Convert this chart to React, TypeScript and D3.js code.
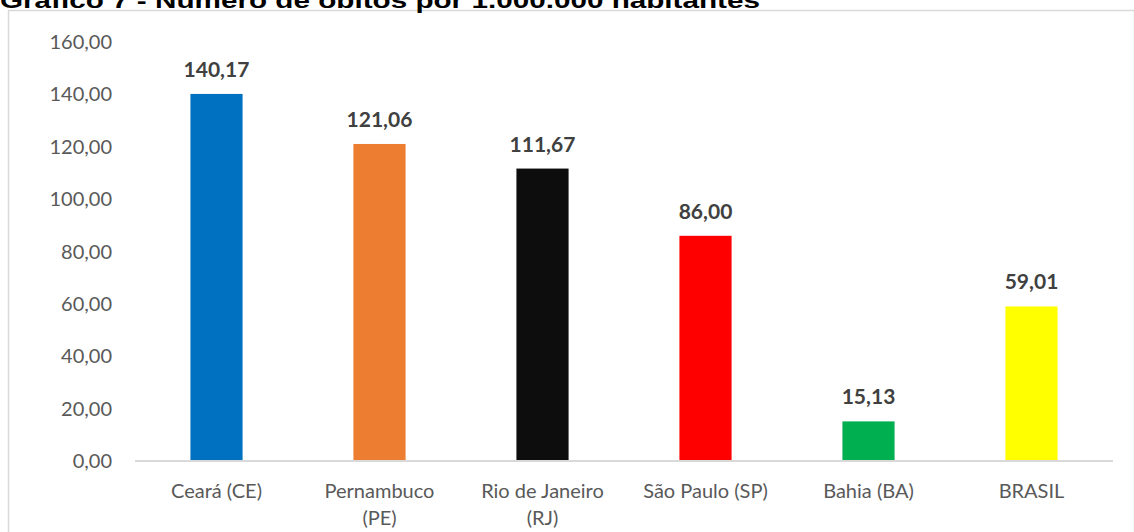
import React from "react";
import * as d3 from "d3";

const categories: string[][] = [
  ["Ceará (CE)"],
  ["Pernambuco", "(PE)"],
  ["Rio de Janeiro", "(RJ)"],
  ["São Paulo (SP)"],
  ["Bahia (BA)"],
  ["BRASIL"],
];
const values: number[] = [140.17, 121.06, 111.67, 86.0, 15.13, 59.01];
const colors: string[] = ["#0070C0", "#ED7D31", "#0D0D0D", "#FF0000", "#00B050", "#FFFF00"];
const yTicks: number[] = [0, 20, 40, 60, 80, 100, 120, 140, 160];
const title = "Gráfico 7 - Número de óbitos por 1.000.000 habitantes";

const W = 1134;
const H = 532;
const fmt = (v: number) => v.toFixed(2).replace(".", ",");

export default function App() {
  const x = d3
    .scaleBand<number>()
    .domain(d3.range(categories.length))
    .range([135, 1113])
    .paddingInner(0.68)
    .paddingOuter(0.34);
  const y = d3.scaleLinear().domain([0, 160]).range([461, 42]);
  const font = "Lato, 'Open Sans', sans-serif";

  return (
    <svg
      width={W}
      height={H}
      style={{ position: "absolute", left: 0, top: 0, background: "#fff" }}
    >
      <rect x={8.5} y={10.5} width={W - 8} height={H} fill="#fff" stroke="#d9d9d9" strokeWidth={1.5} />
      <text
        x={0}
        y={8}
        fontFamily="'Liberation Sans', Arial, sans-serif"
        fontWeight="bold"
        fontSize={22}
        fill="#000"
        textLength={760}
        lengthAdjust="spacingAndGlyphs"
      >
        {title}
      </text>
      {yTicks.map((t) => (
        <text
          key={t}
          x={112}
          y={y(t)}
          dy="0.35em"
          textAnchor="end"
          fontFamily={font}
          fontSize={20}
          fill="#595959"
        >
          {fmt(t)}
        </text>
      ))}
      {values.map((v, i) => (
        <g key={i}>
          <rect x={x(i)} y={y(v)} width={x.bandwidth()} height={y(0) - y(v)} fill={colors[i]} />
          <text
            x={(x(i) as number) + x.bandwidth() / 2}
            y={y(v) - 17}
            textAnchor="middle"
            fontFamily={font}
            fontWeight="bold"
            fontSize={21}
            fill="#404040"
          >
            {fmt(v)}
          </text>
          {categories[i].map((line, j) => (
            <text
              key={j}
              x={(x(i) as number) + x.bandwidth() / 2}
              y={498 + j * 27}
              textAnchor="middle"
              fontFamily={font}
              fontSize={20}
              fill="#595959"
            >
              {line}
            </text>
          ))}
        </g>
      ))}
      <line x1={135} x2={1113} y1={y(0)} y2={y(0)} stroke="#d9d9d9" strokeWidth={2} />
    </svg>
  );
}
